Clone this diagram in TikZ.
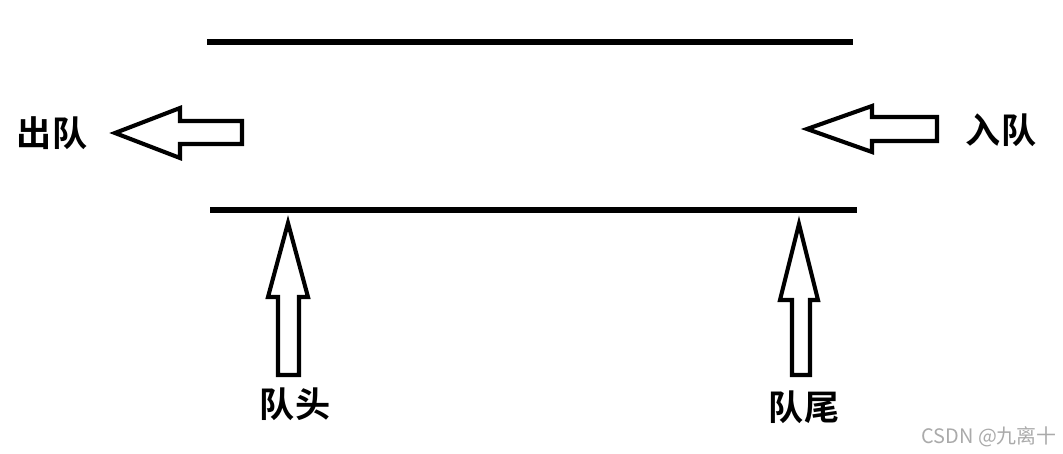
\documentclass[tikz,border=0pt]{standalone}
\usepackage{fontspec}
\setmainfont{Noto Sans CJK SC}
\newfontfamily\cjkbold{Noto Sans CJK SC Bold}
\usepackage{tikz}
\usetikzlibrary{positioning}
\definecolor{markgray}{RGB}{170,170,170}
\tikzset{
  qline/.style={line width=4.5pt},
  hollow/.style={draw, line width=3.5pt, fill=white, line join=miter},
  label/.style={font=\cjkbold\fontsize{30}{30}\selectfont, inner sep=0pt}
}

\begin{document}
\begin{tikzpicture}[x=0.03cm, y=-0.03cm]
  \useasboundingbox (0,0) rectangle (1063,454);

  % queue walls
  \coordinate (topL) at (207,42);
  \coordinate (topR) at (853,42);
  \coordinate (botL) at (210,210);
  \coordinate (botR) at (857,210);
  \draw[qline] (topL) -- (topR);
  \draw[qline] (botL) -- (botR);

  % dequeue arrow (left)
  \draw[hollow] (115,133) -- (180,108) -- (180,121) -- (242,121) -- (242,144) -- (180,144) -- (180,158) -- cycle;
  % enqueue arrow (right)
  \draw[hollow] (807,129) -- (872,106) -- (872,117) -- (937,117) -- (937,141) -- (872,141) -- (872,152) -- cycle;
  % head pointer
  \draw[hollow] (288,223) -- (308,297) -- (299,297) -- (299,375) -- (278,375) -- (278,297) -- (268,297) -- cycle;
  % tail pointer
  \draw[hollow] (799,224) -- (818,300) -- (810,300) -- (810,375) -- (792,375) -- (792,300) -- (780,300) -- cycle;

  \node[label] (deq) at (52,133) {出队};
  \node[label] (enq) at (1001,130) {入队};
  \node[label] (head) at (295,404) {队头};
  \node[label] (tail) at (804,407) {队尾};

  \node[font=\fontsize{17}{17}\selectfont, text=markgray, inner sep=0pt] (mark) at (989,437) {CSDN @九离十};
\end{tikzpicture}
\end{document}
